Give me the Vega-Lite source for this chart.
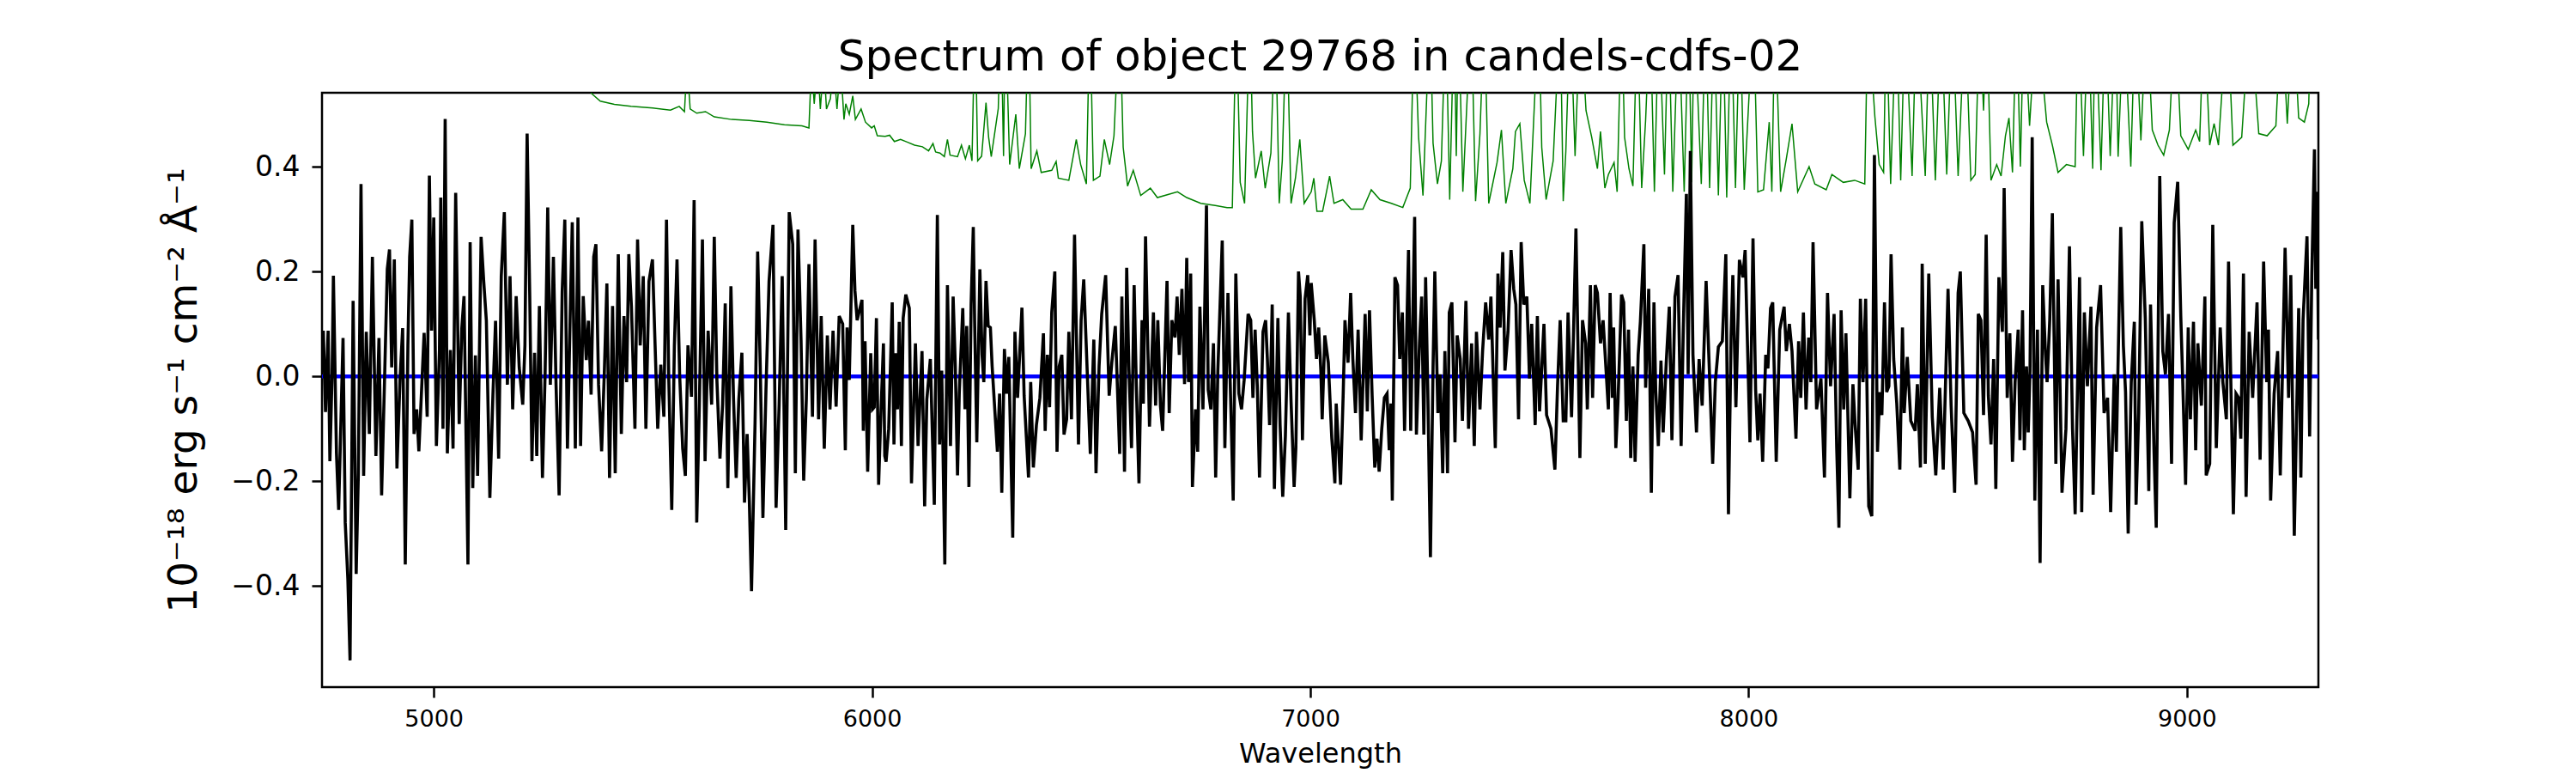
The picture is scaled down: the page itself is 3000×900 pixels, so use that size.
{
  "$schema": "https://vega.github.io/schema/vega-lite/v6.json",
  "width": 2325,
  "height": 692,
  "autosize": {"type": "none"},
  "padding": {"left": 375, "top": 108, "right": 300, "bottom": 100},
  "background": "white",
  "title": {
    "text": "Spectrum of object 29768 in candels-cdfs-02",
    "font": "DejaVu Sans",
    "fontSize": 50,
    "fontWeight": "normal",
    "color": "black",
    "anchor": "middle",
    "offset": 16
  },
  "datasets": {
    "flux": [
      {"w":4748,"f":0.087},{"w":4753,"f":-0.068},{"w":4759,"f":0.087},{"w":4763,"f":-0.162},{"w":4768,"f":0.003},{"w":4771,"f":0.192},{"w":4778,"f":-0.147},{"w":4783,"f":-0.255},{"w":4788,"f":-0.091},{"w":4793,"f":0.073},{"w":4798,"f":-0.279},{"w":4804,"f":-0.387},{"w":4809,"f":-0.542},{"w":4816,"f":0.144},{"w":4823,"f":-0.377},{"w":4828,"f":-0.185},{"w":4834,"f":0.367},{"w":4840,"f":-0.19},{"w":4846,"f":0.085},{"w":4853,"f":-0.11},{"w":4860,"f":0.228},{"w":4868,"f":-0.152},{"w":4875,"f":0.073},{"w":4881,"f":-0.227},{"w":4888,"f":0.003},{"w":4894,"f":0.205},{"w":4899,"f":0.242},{"w":4904,"f":0.017},{"w":4910,"f":0.223},{"w":4916,"f":-0.176},{"w":4923,"f":-0.007},{"w":4929,"f":0.092},{"w":4935,"f":-0.359},{"w":4941,"f":0.059},{"w":4945,"f":0.228},{"w":4950,"f":0.299},{"w":4955,"f":-0.11},{"w":4961,"f":-0.063},{"w":4966,"f":-0.143},{"w":4973,"f":-0.011},{"w":4978,"f":0.083},{"w":4985,"f":-0.077},{"w":4990,"f":0.383},{"w":4995,"f":0.087},{"w":5000,"f":0.303},{"w":5006,"f":-0.133},{"w":5013,"f":0.05},{"w":5016,"f":0.341},{"w":5021,"f":-0.1},{"w":5026,"f":0.491},{"w":5031,"f":-0.147},{"w":5038,"f":0.05},{"w":5044,"f":-0.138},{"w":5050,"f":0.35},{"w":5058,"f":-0.091},{"w":5064,"f":0.092},{"w":5069,"f":0.153},{"w":5078,"f":-0.359},{"w":5083,"f":0.256},{"w":5089,"f":-0.213},{"w":5095,"f":0.04},{"w":5100,"f":-0.19},{"w":5108,"f":0.266},{"w":5114,"f":0.181},{"w":5120,"f":0.106},{"w":5128,"f":-0.232},{"w":5135,"f":-0.035},{"w":5141,"f":0.106},{"w":5148,"f":-0.157},{"w":5154,"f":0.191},{"w":5161,"f":0.313},{"w":5168,"f":-0.016},{"w":5174,"f":0.191},{"w":5180,"f":-0.063},{"w":5188,"f":0.153},{"w":5195,"f":0.017},{"w":5203,"f":-0.054},{"w":5208,"f":0.059},{"w":5213,"f":0.463},{"w":5219,"f":0.153},{"w":5224,"f":-0.162},{"w":5230,"f":0.045},{"w":5235,"f":-0.152},{"w":5241,"f":0.134},{"w":5248,"f":-0.194},{"w":5254,"f":0.003},{"w":5260,"f":0.322},{"w":5266,"f":-0.016},{"w":5273,"f":0.228},{"w":5279,"f":-0.016},{"w":5286,"f":-0.227},{"w":5293,"f":0.162},{"w":5299,"f":0.299},{"w":5305,"f":-0.138},{"w":5311,"f":0.106},{"w":5316,"f":0.294},{"w":5323,"f":-0.138},{"w":5329,"f":0.303},{"w":5335,"f":-0.133},{"w":5341,"f":0.153},{"w":5348,"f":0.031},{"w":5353,"f":0.106},{"w":5359,"f":-0.035},{"w":5365,"f":0.228},{"w":5370,"f":0.252},{"w":5376,"f":-0.016},{"w":5383,"f":-0.143},{"w":5389,"f":0.003},{"w":5395,"f":0.177},{"w":5401,"f":-0.194},{"w":5408,"f":0.134},{"w":5414,"f":-0.185},{"w":5421,"f":0.233},{"w":5428,"f":-0.11},{"w":5434,"f":0.115},{"w":5440,"f":-0.011},{"w":5445,"f":0.233},{"w":5451,"f":0.134},{"w":5459,"f":-0.1},{"w":5465,"f":0.261},{"w":5471,"f":0.059},{"w":5478,"f":0.191},{"w":5484,"f":-0.1},{"w":5491,"f":0.181},{"w":5499,"f":0.223},{"w":5505,"f":0.059},{"w":5511,"f":-0.1},{"w":5518,"f":0.022},{"w":5525,"f":-0.077},{"w":5531,"f":0.299},{"w":5536,"f":0.003},{"w":5543,"f":-0.255},{"w":5549,"f":0.059},{"w":5555,"f":0.223},{"w":5561,"f":0.003},{"w":5568,"f":-0.138},{"w":5574,"f":-0.19},{"w":5580,"f":0.059},{"w":5588,"f":-0.039},{"w":5594,"f":0.336},{"w":5600,"f":-0.279},{"w":5606,"f":-0.054},{"w":5613,"f":0.261},{"w":5619,"f":-0.162},{"w":5626,"f":0.087},{"w":5634,"f":-0.054},{"w":5640,"f":0.266},{"w":5646,"f":-0.007},{"w":5653,"f":-0.157},{"w":5659,"f":-0.054},{"w":5665,"f":0.139},{"w":5671,"f":-0.213},{"w":5678,"f":0.172},{"w":5684,"f":-0.044},{"w":5690,"f":-0.194},{"w":5696,"f":-0.044},{"w":5703,"f":0.045},{"w":5709,"f":-0.241},{"w":5715,"f":-0.11},{"w":5720,"f":-0.237},{"w":5725,"f":-0.41},{"w":5733,"f":-0.091},{"w":5739,"f":0.238},{"w":5745,"f":0.017},{"w":5751,"f":-0.27},{"w":5758,"f":-0.025},{"w":5765,"f":0.181},{"w":5774,"f":0.289},{"w":5781,"f":-0.251},{"w":5788,"f":-0.054},{"w":5795,"f":0.191},{"w":5803,"f":-0.293},{"w":5811,"f":0.313},{"w":5819,"f":0.252},{"w":5825,"f":-0.185},{"w":5831,"f":0.28},{"w":5838,"f":0.069},{"w":5844,"f":-0.199},{"w":5850,"f":-0.044},{"w":5856,"f":0.214},{"w":5864,"f":-0.077},{"w":5870,"f":0.261},{"w":5878,"f":-0.082},{"w":5884,"f":0.115},{"w":5891,"f":-0.138},{"w":5898,"f":0.078},{"w":5904,"f":-0.063},{"w":5911,"f":0.087},{"w":5918,"f":-0.058},{"w":5925,"f":0.115},
      {"w":5933,"f":0.1},{"w":5939,"f":-0.141},{"w":5943,"f":0.093},{"w":5948,"f":-0.007},{"w":5956,"f":0.289},{"w":5961,"f":0.163},{"w":5966,"f":0.107},{"w":5977,"f":0.146},{"w":5980,"f":-0.104},{"w":5984,"f":0.067},{"w":5990,"f":-0.182},{"w":5997,"f":0.044},{"w":6001,"f":-0.063},{"w":6005,"f":-0.059},{"w":6010,"f":0.111},{"w":6015,"f":-0.207},{"w":6019,"f":-0.1},{"w":6026,"f":0.063},{"w":6029,"f":-0.152},{"w":6032,"f":-0.163},{"w":6038,"f":-0.1},{"w":6046,"f":0.141},{"w":6050,"f":-0.13},{"w":6054,"f":0.044},{"w":6058,"f":-0.063},{"w":6062,"f":0.104},{"w":6067,"f":-0.133},{"w":6071,"f":0.111},{"w":6077,"f":0.156},{"w":6085,"f":0.13},{"w":6090,"f":-0.204},{"w":6099,"f":0.063},{"w":6105,"f":-0.133},{"w":6114,"f":0.048},{"w":6120,"f":-0.248},{"w":6125,"f":-0.044},{"w":6133,"f":0.033},{"w":6142,"f":-0.245},{"w":6149,"f":0.308},{"w":6154,"f":-0.13},{"w":6159,"f":0.011},{"w":6166,"f":-0.359},{"w":6172,"f":0.174},{"w":6179,"f":-0.133},{"w":6185,"f":0.152},{"w":6190,"f":0.019},{"w":6195,"f":-0.189},{"w":6199,"f":-0.033},{"w":6207,"f":0.13},{"w":6212,"f":-0.063},{"w":6216,"f":0.096},{"w":6221,"f":-0.211},{"w":6226,"f":0.137},{"w":6231,"f":0.285},{"w":6234,"f":0.107},{"w":6239,"f":-0.126},{"w":6246,"f":0.204},{"w":6251,"f":0.041},{"w":6255,"f":-0.011},{"w":6260,"f":0.182},{"w":6265,"f":0.096},{"w":6270,"f":0.093},{"w":6274,"f":0.019},{"w":6280,"f":-0.063},{"w":6286,"f":-0.144},{"w":6291,"f":-0.033},{"w":6296,"f":-0.222},{"w":6302,"f":0.052},{"w":6307,"f":-0.033},{"w":6312,"f":0.037},{"w":6321,"f":-0.308},{"w":6326,"f":0.085},{"w":6332,"f":-0.041},{"w":6342,"f":0.131},{"w":6347,"f":-0.037},{"w":6357,"f":-0.193},{"w":6362,"f":-0.011},{"w":6368,"f":-0.174},{"w":6375,"f":-0.093},{"w":6383,"f":-0.041},{"w":6391,"f":0.082},{"w":6395,"f":-0.104},{"w":6400,"f":0.041},{"w":6405,"f":-0.059},{"w":6410,"f":0.122},{"w":6417,"f":0.2},{"w":6422,"f":-0.144},{"w":6427,"f":0.019},{"w":6433,"f":0.041},{"w":6438,"f":-0.111},{"w":6444,"f":-0.082},{"w":6449,"f":0.085},{"w":6455,"f":-0.082},{"w":6462,"f":0.27},{"w":6471,"f":-0.13},{"w":6477,"f":0.107},{"w":6483,"f":0.185},{"w":6489,"f":0.052},{"w":6498,"f":-0.148},{"w":6506,"f":0.07},{"w":6511,"f":-0.185},{"w":6518,"f":0.019},{"w":6524,"f":0.119},{"w":6533,"f":0.193},{"w":6541,"f":-0.037},{"w":6547,"f":0.026},{"w":6555,"f":0.096},{"w":6565,"f":-0.148},{"w":6570,"f":0.152},{"w":6576,"f":-0.182},{"w":6581,"f":0.207},{"w":6586,"f":0.019},{"w":6592,"f":-0.137},{"w":6598,"f":0.174},{"w":6603,"f":-0.019},{"w":6609,"f":-0.204},{"w":6616,"f":0.107},{"w":6619,"f":-0.052},{"w":6624,"f":0.267},{"w":6633,"f":-0.096},{"w":6642,"f":0.122},{"w":6647,"f":-0.056},{"w":6652,"f":0.107},{"w":6658,"f":-0.056},{"w":6663,"f":-0.104},{"w":6673,"f":0.182},{"w":6678,"f":-0.07},{"w":6684,"f":0.107},{"w":6691,"f":0.074},{"w":6696,"f":0.152},{"w":6701,"f":0.041},{"w":6707,"f":0.167},{"w":6713,"f":-0.015},{"w":6718,"f":0.226},{"w":6722,"f":-0.011},{"w":6727,"f":0.196},{"w":6731,"f":-0.211},{"w":6738,"f":-0.063},{"w":6743,"f":-0.144},{"w":6748,"f":0.133},{"w":6755,"f":-0.063},{"w":6763,"f":0.326},{"w":6767,"f":-0.026},{"w":6773,"f":-0.063},{"w":6779,"f":0.063},{"w":6784,"f":-0.193},{"w":6789,"f":0.011},{"w":6799,"f":0.259},{"w":6805,"f":-0.137},{"w":6812,"f":0.159},
      {"w":6824,"f":-0.237},{"w":6830,"f":0.196},{"w":6837,"f":-0.033},{"w":6843,"f":-0.063},{"w":6849,"f":-0.007},{"w":6858,"f":0.119},{"w":6864,"f":0.107},{"w":6869,"f":-0.041},{"w":6874,"f":0.089},{"w":6879,"f":-0.019},{"w":6884,"f":-0.193},{"w":6892,"f":0.085},{"w":6898,"f":0.107},{"w":6902,"f":0.033},{"w":6907,"f":-0.093},{"w":6913,"f":0.137},{"w":6918,"f":-0.215},{"w":6926,"f":0.111},{"w":6931,"f":-0.093},{"w":6937,"f":-0.23},{"w":6943,"f":-0.115},{"w":6950,"f":0.122},{"w":6956,"f":-0.048},{"w":6963,"f":-0.211},{"w":6967,"f":-0.137},{"w":6973,"f":0.2},{"w":6977,"f":0.152},{"w":6982,"f":-0.122},{"w":6988,"f":0.148},{"w":6994,"f":0.193},{"w":6999,"f":0.078},{"w":7002,"f":0.178},{"w":7009,"f":0.107},{"w":7014,"f":0.033},{"w":7019,"f":0.093},{"w":7024,"f":0.011},{"w":7027,"f":-0.082},{"w":7033,"f":0.078},{"w":7041,"f":0.026},{"w":7049,"f":-0.119},{"w":7056,"f":-0.204},{"w":7059,"f":-0.052},{"w":7064,"f":-0.13},{"w":7069,"f":-0.207},{"w":7075,"f":-0.033},{"w":7079,"f":0.107},{"w":7086,"f":0.026},{"w":7092,"f":0.159},{"w":7097,"f":0.033},{"w":7103,"f":-0.07},{"w":7109,"f":0.089},{"w":7116,"f":-0.122},{"w":7125,"f":0.119},{"w":7130,"f":-0.067},{"w":7135,"f":0.126},{"w":7141,"f":-0.037},{"w":7147,"f":-0.174},{"w":7152,"f":-0.119},{"w":7157,"f":-0.182},{"w":7163,"f":-0.1},{"w":7169,"f":-0.041},{"w":7175,"f":-0.033},{"w":7180,"f":-0.141},{"w":7184,"f":-0.052},{"w":7187,"f":-0.237},{"w":7193,"f":0.189},{"w":7199,"f":0.174},{"w":7204,"f":0.033},{"w":7210,"f":0.122},{"w":7215,"f":-0.104},{"w":7224,"f":0.241},{"w":7229,"f":-0.104},{"w":7238,"f":0.304},{"w":7242,"f":-0.111},{"w":7249,"f":0.063},{"w":7254,"f":0.152},{"w":7259,"f":-0.111},{"w":7263,"f":0.189},{"w":7268,"f":-0.026},{"w":7274,"f":-0.345},{"w":7280,"f":0.019},{"w":7284,"f":0.2},{"w":7291,"f":-0.07},{"w":7296,"f":0.004},{"w":7302,"f":-0.185},{"w":7307,"f":0.048},{"w":7313,"f":-0.185},{"w":7317,"f":0.122},{"w":7323,"f":0.141},{"w":7330,"f":-0.126},{"w":7335,"f":0.078},{"w":7342,"f":0.033},{"w":7347,"f":-0.085},{"w":7355,"f":0.144},{"w":7361,"f":-0.1},{"w":7368,"f":0.063},{"w":7374,"f":-0.133},{"w":7379,"f":0.085},{"w":7387,"f":-0.063},{"w":7393,"f":0.048},{"w":7400,"f":0.141},{"w":7407,"f":0.07},{"w":7412,"f":0.152},{"w":7422,"f":-0.137},{"w":7428,"f":0.196},{"w":7433,"f":0.093},{"w":7439,"f":0.237},{"w":7444,"f":0.011},{"w":7451,"f":0.085},{"w":7458,"f":0.241},{"w":7464,"f":0.167},{"w":7469,"f":0.137},{"w":7475,"f":-0.082},{"w":7481,"f":0.256},{"w":7487,"f":0.137},{"w":7494,"f":0.152},{"w":7500,"f":-0.004},{"w":7505,"f":0.1},{"w":7513,"f":-0.093},{"w":7518,"f":0.115},{"w":7523,"f":-0.067},{"w":7533,"f":0.1},{"w":7539,"f":-0.074},{"w":7549,"f":-0.1},{"w":7558,"f":-0.178},{"w":7564,"f":-0.019},{"w":7570,"f":0.107},{"w":7577,"f":-0.085},{"w":7583,"f":-0.085},{"w":7588,"f":0.122},{"w":7596,"f":-0.078},{"w":7606,"f":0.282},{"w":7615,"f":-0.156},{"w":7621,"f":0.107},{"w":7628,"f":0.063},{"w":7632,"f":-0.063},{"w":7639,"f":0.174},{"w":7644,"f":-0.041},{"w":7650,"f":0.174},{"w":7655,"f":0.159},{"w":7662,"f":0.063},{"w":7668,"f":0.107},
      {"w":7680,"f":-0.063},{"w":7684,"f":0.159},{"w":7689,"f":-0.041},{"w":7692,"f":0.093},{"w":7697,"f":-0.137},{"w":7702,"f":-0.048},{"w":7710,"f":0.156},{"w":7715,"f":0.141},{"w":7721,"f":-0.085},{"w":7726,"f":0.089},{"w":7731,"f":-0.156},{"w":7736,"f":0.019},{"w":7741,"f":-0.163},{"w":7748,"f":0.041},{"w":7753,"f":0.104},{"w":7761,"f":0.252},{"w":7765,"f":-0.022},{"w":7772,"f":0.167},{"w":7778,"f":-0.222},{"w":7784,"f":0.141},{"w":7788,"f":-0.026},{"w":7794,"f":-0.133},{"w":7800,"f":0.03},{"w":7805,"f":-0.107},{"w":7812,"f":0.026},{"w":7819,"f":0.133},{"w":7825,"f":-0.122},{"w":7832,"f":0.152},{"w":7839,"f":0.193},{"w":7846,"f":-0.133},{"w":7851,"f":0.093},{"w":7858,"f":0.348},{"w":7862,"f":0.004},{"w":7867,"f":0.43},{"w":7873,"f":0.041},{"w":7881,"f":-0.107},{"w":7887,"f":0.033},{"w":7894,"f":-0.056},{"w":7903,"f":0.182},{"w":7913,"f":-0.048},{"w":7918,"f":-0.167},{"w":7924,"f":-0.011},{"w":7931,"f":0.056},{"w":7940,"f":0.067},{"w":7948,"f":0.233},{"w":7954,"f":-0.263},{"w":7960,"f":0.078},{"w":7964,"f":0.193},{"w":7971,"f":-0.059},{"w":7979,"f":0.222},{"w":7987,"f":0.189},{"w":7992,"f":0.241},{"w":8003,"f":-0.126},{"w":8010,"f":0.263},{"w":8016,"f":-0.026},{"w":8021,"f":-0.122},{"w":8026,"f":-0.033},{"w":8032,"f":-0.163},{"w":8039,"f":0.041},{"w":8044,"f":0.015},{"w":8050,"f":0.13},{"w":8055,"f":0.141},{"w":8063,"f":-0.163},{"w":8071,"f":0.089},{"w":8081,"f":0.133},{"w":8086,"f":0.048},{"w":8093,"f":0.1},{"w":8099,"f":0.048},{"w":8108,"f":-0.119},{"w":8114,"f":0.067},{"w":8119,"f":-0.041},{"w":8125,"f":0.122},{"w":8131,"f":-0.063},{"w":8137,"f":0.074},{"w":8142,"f":-0.011},{"w":8147,"f":0.256},{"w":8155,"f":-0.063},{"w":8165,"f":-0.004},{"w":8173,"f":-0.193},{"w":8180,"f":0.159},{"w":8187,"f":-0.019},{"w":8195,"f":0.119},{"w":8201,"f":-0.137},{"w":8206,"f":-0.289},{"w":8211,"f":0.126},{"w":8217,"f":-0.063},{"w":8222,"f":0.082},{"w":8231,"f":-0.233},{"w":8238,"f":-0.015},{"w":8243,"f":-0.093},{"w":8250,"f":-0.178},{"w":8255,"f":0.148},{"w":8261,"f":-0.011},{"w":8267,"f":0.148},{"w":8274,"f":-0.248},{"w":8281,"f":-0.267},{"w":8287,"f":0.422},{"w":8294,"f":-0.144},{"w":8299,"f":-0.03},{"w":8304,"f":-0.074},{"w":8310,"f":0.141},{"w":8315,"f":-0.03},{"w":8320,"f":-0.019},{"w":8325,"f":0.233},{"w":8331,"f":0.033},{"w":8338,"f":-0.052},{"w":8345,"f":-0.178},{"w":8351,"f":0.093},{"w":8355,"f":-0.07},{"w":8362,"f":0.037},{"w":8370,"f":-0.085},{"w":8380,"f":-0.104},{"w":8385,"f":-0.015},{"w":8392,"f":-0.174},{"w":8396,"f":0.215},{"w":8403,"f":-0.167},{"w":8411,"f":0.196},{"w":8419,"f":-0.078},{"w":8427,"f":-0.189},{"w":8436,"f":-0.022},{"w":8444,"f":-0.178},{"w":8455,"f":0.167},{"w":8462,"f":-0.056},{"w":8470,"f":-0.222},{"w":8478,"f":0.159},{"w":8483,"f":0.2},{"w":8491,"f":-0.07},{"w":8501,"f":-0.085},{"w":8511,"f":-0.107},{"w":8519,"f":-0.207},{"w":8524,"f":0.119},{"w":8530,"f":0.107},{"w":8536,"f":-0.074},
      {"w":8542,"f":0.27},{"w":8547,"f":-0.037},{"w":8553,"f":-0.13},{"w":8559,"f":0.033},{"w":8564,"f":-0.215},{"w":8571,"f":0.189},{"w":8579,"f":0.085},{"w":8583,"f":0.359},{"w":8590,"f":-0.041},{"w":8596,"f":0.082},{"w":8602,"f":-0.163},{"w":8608,"f":-0.011},{"w":8615,"f":0.089},{"w":8619,"f":-0.122},{"w":8625,"f":0.126},{"w":8629,"f":-0.141},{"w":8634,"f":0.019},{"w":8638,"f":-0.107},{"w":8642,"f":0.011},{"w":8647,"f":0.456},{"w":8653,"f":-0.237},{"w":8659,"f":0.089},{"w":8665,"f":-0.356},{"w":8671,"f":0.174},{"w":8677,"f":0.048},{"w":8681,"f":-0.011},{"w":8687,"f":0.107},{"w":8693,"f":0.311},{"w":8701,"f":-0.167},{"w":8706,"f":0.185},{"w":8715,"f":-0.222},{"w":8724,"f":-0.1},{"w":8732,"f":0.248},{"w":8739,"f":-0.1},{"w":8745,"f":-0.263},{"w":8755,"f":0.189},{"w":8760,"f":-0.259},{"w":8766,"f":0.122},{"w":8773,"f":-0.019},{"w":8781,"f":0.133},{"w":8786,"f":-0.226},{"w":8794,"f":0.093},{"w":8803,"f":0.174},{"w":8811,"f":-0.07},{"w":8819,"f":-0.041},{"w":8826,"f":-0.259},{"w":8834,"f":0.004},{"w":8839,"f":-0.144},{"w":8849,"f":0.285},{"w":8855,"f":0.059},{"w":8860,"f":-0.03},{"w":8866,"f":-0.3},{"w":8873,"f":-0.011},{"w":8880,"f":0.104},{"w":8884,"f":-0.245},{"w":8890,"f":-0.07},{"w":8897,"f":0.296},{"w":8905,"f":0.111},{"w":8913,"f":-0.219},{"w":8917,"f":0.137},{"w":8925,"f":-0.144},{"w":8930,"f":-0.289},{"w":8938,"f":0.382},{"w":8945,"f":0.048},{"w":8951,"f":0.004},{"w":8958,"f":0.119},{"w":8965,"f":-0.167},{"w":8971,"f":0.293},{"w":8979,"f":0.371},{"w":8986,"f":0.115},{"w":8990,"f":0.004},{"w":8997,"f":-0.207},{"w":9003,"f":0.093},{"w":9008,"f":-0.082},{"w":9015,"f":0.104},{"w":9020,"f":-0.141},{"w":9025,"f":0.063},{"w":9033,"f":-0.056},{"w":9041,"f":0.152},{"w":9044,"f":-0.189},{"w":9052,"f":-0.167},{"w":9059,"f":0.289},{"w":9067,"f":-0.137},{"w":9076,"f":0.093},{"w":9082,"f":-0.011},{"w":9090,"f":-0.082},{"w":9095,"f":0.219},{"w":9106,"f":-0.263},{"w":9112,"f":-0.033},{"w":9118,"f":-0.041},{"w":9123,"f":-0.119},{"w":9129,"f":0.196},{"w":9135,"f":-0.23},{"w":9142,"f":0.085},{"w":9150,"f":-0.041},{"w":9160,"f":0.141},{"w":9167,"f":-0.159},{"w":9175,"f":0.219},{"w":9182,"f":-0.011},{"w":9186,"f":0.089},{"w":9191,"f":-0.237},{"w":9199,"f":-0.033},{"w":9207,"f":0.048},{"w":9213,"f":-0.189},{"w":9224,"f":0.245},{"w":9232,"f":-0.041},{"w":9237,"f":0.193},{"w":9245,"f":-0.304},{"w":9255,"f":0.13},{"w":9260,"f":-0.193},{"w":9265,"f":0.107},{"w":9274,"f":0.267},{"w":9280,"f":-0.115},{"w":9285,"f":0.196},{"w":9291,"f":0.433},{"w":9294,"f":0.167},{"w":9297,"f":0.352},{"w":9300,"f":0.07}
    ],
    "err": [
      {"w":4745,"e":0.75},{"w":5000,"e":0.62},{"w":5300,"e":0.56},{"w":5355,"e":0.545},{"w":5362,"e":0.538},{"w":5380,"e":0.525},{"w":5412,"e":0.519},{"w":5450,"e":0.515},{"w":5500,"e":0.512},{"w":5540,"e":0.508},{"w":5560,"e":0.515},{"w":5572,"e":0.505},{"w":5578,"e":0.6},{"w":5585,"e":0.51},{"w":5600,"e":0.502},{"w":5620,"e":0.505},{"w":5640,"e":0.495},{"w":5680,"e":0.49},{"w":5720,"e":0.488},{"w":5760,"e":0.485},{"w":5800,"e":0.48},{"w":5840,"e":0.478},{"w":5856,"e":0.474},{"w":5862,"e":0.6},{"w":5868,"e":0.52},{"w":5876,"e":0.6},{"w":5882,"e":0.51},{"w":5890,"e":0.6},{"w":5896,"e":0.51},{"w":5905,"e":0.53},{"w":5912,"e":0.6},{"w":5920,"e":0.51},{"w":5928,"e":0.6},{"w":5936,"e":0.49},{"w":5940,"e":0.52},{"w":5948,"e":0.5},{"w":5956,"e":0.535},{"w":5962,"e":0.49},{"w":5975,"e":0.51},{"w":5985,"e":0.485},{"w":5999,"e":0.474},{"w":6005,"e":0.478},{"w":6012,"e":0.459},{"w":6030,"e":0.458},{"w":6040,"e":0.46},{"w":6051,"e":0.448},{"w":6065,"e":0.452},{"w":6080,"e":0.447},{"w":6097,"e":0.441},{"w":6115,"e":0.438},{"w":6129,"e":0.43},{"w":6139,"e":0.444},{"w":6145,"e":0.428},{"w":6155,"e":0.426},{"w":6165,"e":0.419},{"w":6172,"e":0.452},{"w":6178,"e":0.422},{"w":6195,"e":0.419},{"w":6204,"e":0.441},{"w":6213,"e":0.415},{"w":6222,"e":0.441},{"w":6228,"e":0.411},{"w":6235,"e":0.7},{"w":6241,"e":0.411},{"w":6250,"e":0.42},{"w":6260,"e":0.522},{"w":6266,"e":0.456},{"w":6272,"e":0.419},{"w":6288,"e":0.511},{"w":6294,"e":0.7},{"w":6300,"e":0.42},{"w":6304,"e":0.7},{"w":6314,"e":0.404},{"w":6328,"e":0.5},{"w":6336,"e":0.396},{"w":6350,"e":0.463},{"w":6357,"e":0.7},{"w":6363,"e":0.396},{"w":6376,"e":0.43},{"w":6386,"e":0.389},{"w":6410,"e":0.393},{"w":6420,"e":0.41},{"w":6425,"e":0.378},{"w":6449,"e":0.374},{"w":6466,"e":0.452},{"w":6476,"e":0.404},{"w":6489,"e":0.367},{"w":6497,"e":0.7},{"w":6505,"e":0.374},{"w":6520,"e":0.382},{"w":6530,"e":0.452},{"w":6542,"e":0.404},{"w":6552,"e":0.459},{"w":6565,"e":0.7},{"w":6573,"e":0.437},{"w":6583,"e":0.363},{"w":6596,"e":0.393},{"w":6613,"e":0.345},{"w":6635,"e":0.359},{"w":6651,"e":0.341},{"w":6697,"e":0.352},{"w":6718,"e":0.341},{"w":6750,"e":0.33},{"w":6783,"e":0.326},{"w":6810,"e":0.322},
      {"w":6822,"e":0.322},{"w":6831,"e":0.7},{"w":6840,"e":0.37},{"w":6850,"e":0.33},{"w":6862,"e":0.7},{"w":6868,"e":0.467},{"w":6875,"e":0.378},{"w":6888,"e":0.43},{"w":6897,"e":0.359},{"w":6910,"e":0.426},{"w":6920,"e":0.7},{"w":6929,"e":0.33},{"w":6936,"e":0.411},{"w":6946,"e":0.7},{"w":6956,"e":0.33},{"w":6966,"e":0.378},{"w":6976,"e":0.452},{"w":6986,"e":0.33},{"w":7002,"e":0.352},{"w":7008,"e":0.378},{"w":7015,"e":0.315},{"w":7028,"e":0.315},{"w":7044,"e":0.382},{"w":7054,"e":0.33},{"w":7074,"e":0.337},{"w":7093,"e":0.319},{"w":7120,"e":0.319},{"w":7139,"e":0.356},{"w":7159,"e":0.337},{"w":7185,"e":0.33},{"w":7211,"e":0.322},{"w":7228,"e":0.359},{"w":7237,"e":0.7},{"w":7247,"e":0.456},{"w":7257,"e":0.345},{"w":7273,"e":0.7},{"w":7280,"e":0.445},{"w":7290,"e":0.367},{"w":7299,"e":0.411},{"w":7309,"e":0.7},{"w":7318,"e":0.337},{"w":7328,"e":0.7},{"w":7333,"e":0.42},{"w":7338,"e":0.7},{"w":7348,"e":0.352},{"w":7367,"e":0.7},{"w":7377,"e":0.334},{"w":7387,"e":0.463},{"w":7397,"e":0.7},{"w":7407,"e":0.33},{"w":7426,"e":0.408},{"w":7436,"e":0.47},{"w":7446,"e":0.33},{"w":7462,"e":0.396},{"w":7468,"e":0.467},{"w":7478,"e":0.482},{"w":7488,"e":0.374},{"w":7501,"e":0.33},{"w":7521,"e":0.7},{"w":7528,"e":0.437},{"w":7538,"e":0.337},{"w":7554,"e":0.411},{"w":7570,"e":0.7},{"w":7577,"e":0.334},{"w":7583,"e":0.43},{"w":7593,"e":0.7},{"w":7604,"e":0.42},{"w":7616,"e":0.7},{"w":7629,"e":0.507},{"w":7642,"e":0.456},{"w":7655,"e":0.396},{"w":7662,"e":0.467},{"w":7672,"e":0.359},
      {"w":7680,"e":0.385},{"w":7693,"e":0.408},{"w":7700,"e":0.352},{"w":7710,"e":0.7},{"w":7717,"e":0.456},{"w":7727,"e":0.396},{"w":7736,"e":0.363},{"w":7746,"e":0.7},{"w":7756,"e":0.359},{"w":7765,"e":0.489},{"w":7775,"e":0.7},{"w":7785,"e":0.352},{"w":7795,"e":0.7},{"w":7808,"e":0.385},{"w":7817,"e":0.7},{"w":7827,"e":0.352},{"w":7840,"e":0.7},{"w":7853,"e":0.352},{"w":7863,"e":0.7},{"w":7870,"e":0.37},{"w":7876,"e":0.7},{"w":7892,"e":0.367},{"w":7902,"e":0.7},{"w":7911,"e":0.359},{"w":7921,"e":0.7},{"w":7931,"e":0.345},{"w":7941,"e":0.7},{"w":7950,"e":0.341},{"w":7960,"e":0.7},{"w":7970,"e":0.359},{"w":7980,"e":0.7},{"w":7990,"e":0.356},{"w":8011,"e":0.7},{"w":8021,"e":0.352},{"w":8034,"e":0.356},{"w":8047,"e":0.485},{"w":8053,"e":0.352},{"w":8060,"e":0.7},{"w":8073,"e":0.352},{"w":8086,"e":0.415},{"w":8099,"e":0.482},{"w":8112,"e":0.352},{"w":8138,"e":0.4},{"w":8151,"e":0.367},{"w":8177,"e":0.356},{"w":8190,"e":0.385},{"w":8216,"e":0.37},{"w":8242,"e":0.374},{"w":8265,"e":0.367},{"w":8272,"e":0.7},{"w":8288,"e":0.496},{"w":8298,"e":0.404},{"w":8308,"e":0.389},{"w":8314,"e":0.7},{"w":8324,"e":0.367},{"w":8337,"e":0.7},{"w":8347,"e":0.374},{"w":8357,"e":0.7},{"w":8373,"e":0.382},{"w":8383,"e":0.7},{"w":8403,"e":0.382},{"w":8413,"e":0.7},{"w":8426,"e":0.374},{"w":8439,"e":0.7},{"w":8452,"e":0.385},{"w":8465,"e":0.7},{"w":8478,"e":0.382},{"w":8494,"e":0.7},{"w":8507,"e":0.374},{"w":8517,"e":0.385},
      {"w":8527,"e":0.7},{"w":8536,"e":0.507},{"w":8543,"e":0.7},{"w":8553,"e":0.374},{"w":8566,"e":0.404},{"w":8576,"e":0.382},{"w":8586,"e":0.459},{"w":8594,"e":0.493},{"w":8602,"e":0.389},{"w":8611,"e":0.7},{"w":8620,"e":0.4},{"w":8628,"e":0.7},{"w":8641,"e":0.478},{"w":8657,"e":0.7},{"w":8680,"e":0.485},{"w":8693,"e":0.441},{"w":8706,"e":0.389},{"w":8725,"e":0.404},{"w":8745,"e":0.4},{"w":8752,"e":0.7},{"w":8764,"e":0.42},{"w":8775,"e":0.7},{"w":8785,"e":0.396},{"w":8791,"e":0.7},{"w":8804,"e":0.393},{"w":8814,"e":0.7},{"w":8825,"e":0.42},{"w":8837,"e":0.7},{"w":8843,"e":0.419},{"w":8856,"e":0.7},{"w":8872,"e":0.4},{"w":8882,"e":0.7},{"w":8895,"e":0.45},{"w":8908,"e":0.7},{"w":8921,"e":0.47},{"w":8934,"e":0.441},{"w":8947,"e":0.422},{"w":8960,"e":0.47},{"w":8973,"e":0.7},{"w":8986,"e":0.459},{"w":9003,"e":0.433},{"w":9020,"e":0.47},{"w":9029,"e":0.448},{"w":9039,"e":0.7},{"w":9052,"e":0.441},{"w":9062,"e":0.482},{"w":9072,"e":0.441},{"w":9092,"e":0.7},{"w":9105,"e":0.441},{"w":9125,"e":0.456},{"w":9144,"e":0.7},{"w":9164,"e":0.463},{"w":9183,"e":0.459},{"w":9203,"e":0.478},{"w":9216,"e":0.7},{"w":9229,"e":0.482},{"w":9242,"e":0.7},{"w":9255,"e":0.493},{"w":9268,"e":0.485},{"w":9278,"e":0.52},{"w":9283,"e":0.7},{"w":9300,"e":0.7}
    ],
    "zero": [
      {"w":4745,"z":0},{"w":9300,"z":0}
    ]
  },
  "encoding": {
    "x": {
      "field": "w",
      "type": "quantitative",
      "title": "Wavelength",
      "scale": {"domain": [4745, 9300], "nice": false, "zero": false},
      "axis": {
        "values": [5000, 6000, 7000, 8000, 9000],
        "format": "d",
        "labelFontSize": 27,
        "titleFontSize": 32,
        "titleFontWeight": "normal",
        "titlePadding": 12,
        "labelPadding": 12
      }
    }
  },
  "layer": [
    {
      "data": {"name": "err"},
      "mark": {"type": "line", "color": "#008000", "strokeWidth": 1.5, "clip": true},
      "encoding": {
        "y": {
          "field": "e",
          "type": "quantitative",
          "scale": {"domain": [-0.593, 0.541], "nice": false, "zero": false},
          "title": "10⁻¹⁸ erg s⁻¹ cm⁻² Å⁻¹",
          "axis": {
            "values": [-0.4, -0.2, 0, 0.2, 0.4],
            "labelExpr": "replace(format(datum.value, '.1f'), '-', '−')",
            "labelFontSize": 33,
            "titleFontSize": 47,
            "titleFontWeight": "normal",
            "titlePadding": 30,
            "labelPadding": 14
          }
        }
      }
    },
    {
      "data": {"name": "zero"},
      "mark": {"type": "line", "color": "#0000ff", "strokeWidth": 4.5, "clip": true},
      "encoding": {"y": {"field": "z", "type": "quantitative"}}
    },
    {
      "data": {"name": "flux"},
      "mark": {"type": "line", "color": "#000000", "strokeWidth": 3.6, "clip": true},
      "encoding": {"y": {"field": "f", "type": "quantitative"}}
    }
  ],
  "config": {
    "font": "DejaVu Sans",
    "view": {"stroke": "black", "strokeWidth": 2.5},
    "axis": {
      "grid": false,
      "domain": false,
      "labelFont": "DejaVu Sans",
      "titleFont": "DejaVu Sans",
      "labelColor": "black",
      "titleColor": "black",
      "tickColor": "black",
      "tickWidth": 2.5,
      "tickSize": 12
    }
  }
}
